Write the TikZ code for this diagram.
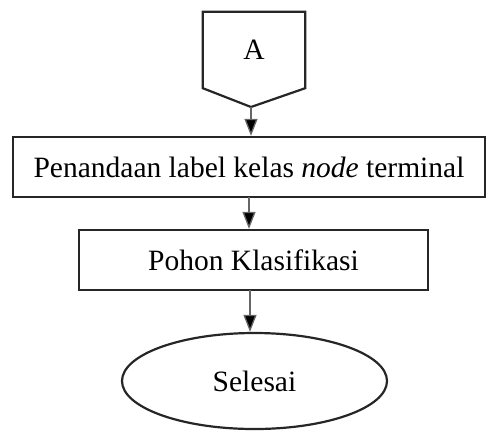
\documentclass[tikz,border=0pt]{standalone}
\usepackage{fontspec}
\setmainfont{Liberation Serif}
\usetikzlibrary{shapes.geometric,arrows.meta}
\begin{document}
\begin{tikzpicture}[x=1pt,y=-1pt,
  labelfont/.style={font=\fontsize{29.5}{34}\selectfont},
  shapeline/.style={draw=black!85, line width=2.2pt},
  procbox/.style={shapeline, rectangle, minimum height=60pt, inner sep=0pt, labelfont},
  flowarrow/.style={draw=black!60, line width=1.3pt, -{Triangle[length=17pt,width=13pt,fill=black]}},
]
\useasboundingbox (0,0) rectangle (486,432);

% off-page connector
\node[inner sep=0pt, minimum width=102pt, minimum height=76pt, labelfont] (A) at (254,50) {A};
\coordinate (Atip) at (251,107);
\draw[shapeline, line join=miter] (A.south west) -- (A.north west) -- (A.north east) -- (A.south east) -- (Atip) -- cycle;

% process boxes
\node[procbox, minimum width=472pt] (b1) at (249,167) {Penandaan label kelas \textit{node} terminal};
\node[procbox, minimum width=349pt] (b2) at (253.5,260) {Pohon Klasifikasi};

% terminator
\node[shapeline, ellipse, minimum width=265pt, minimum height=96pt, inner sep=0pt, labelfont] (end) at (254.5,381) {Selesai};

% connectors
\coordinate (c1) at (249,197);
\coordinate (c2) at (250,290);
\draw[flowarrow] (Atip) -- (Atip |- b1.north);
\draw[flowarrow] (c1) -- (c1 |- b2.north);
\draw[flowarrow] (c2) -- (c2 |- end.north);
\end{tikzpicture}
\end{document}
